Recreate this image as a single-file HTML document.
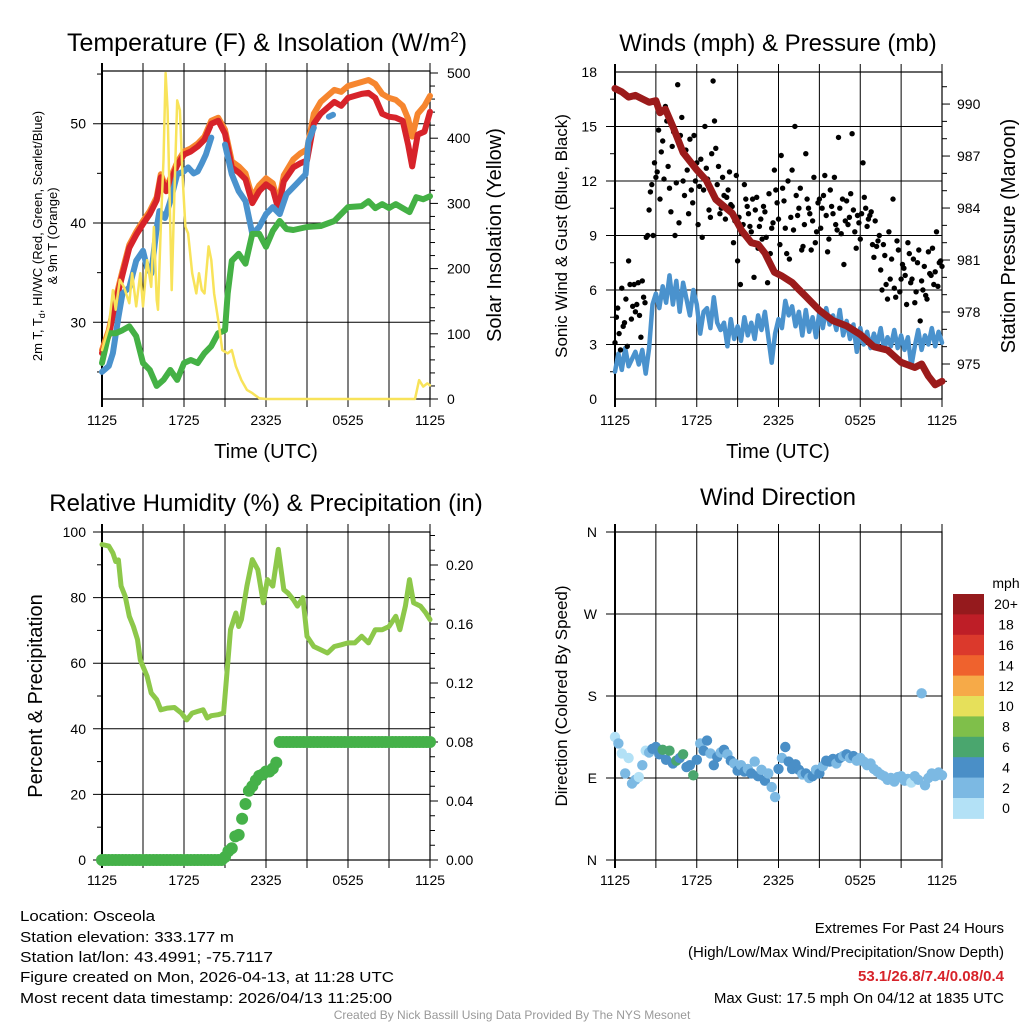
<!DOCTYPE html>
<html><head><meta charset="utf-8"><title>Osceola Meteogram</title>
<style>
html,body{margin:0;padding:0;background:#fff;}
svg{display:block;font-family:"Liberation Sans",Arial,sans-serif;}
</style></head>
<body>
<svg id="fig" width="1024" height="1024" viewBox="0 0 1024 1024" xmlns="http://www.w3.org/2000/svg">
<rect x="0" y="0" width="1024" height="1024" fill="#fff"/>
<!-- titles -->
<text x="267" y="51" font-size="25" text-anchor="middle">Temperature (F) &amp; Insolation (W/m<tspan dy="-9" font-size="15">2</tspan><tspan dy="9">)</tspan></text>
<text x="778" y="51" font-size="24" text-anchor="middle">Winds (mph) &amp; Pressure (mb)</text>
<text x="266" y="511" font-size="24" text-anchor="middle">Relative Humidity (%) &amp; Precipitation (in)</text>
<text x="778" y="505" font-size="24" text-anchor="middle">Wind Direction</text>
<!-- axis titles -->
<text x="266" y="458" font-size="20" text-anchor="middle">Time (UTC)</text>
<text x="778" y="458" font-size="20" text-anchor="middle">Time (UTC)</text>
<text transform="translate(42,236) rotate(-90)" font-size="13" text-anchor="middle">2m T, T<tspan dy="3" font-size="9">d</tspan><tspan dy="-3">, HI/WC (Red, Green, Scarlet/Blue)</tspan></text>
<text transform="translate(57,236) rotate(-90)" font-size="13" text-anchor="middle">&amp; 9m T (Orange)</text>
<text transform="translate(501,235) rotate(-90)" font-size="20" text-anchor="middle">Solar Insolation (Yellow)</text>
<text transform="translate(567,236) rotate(-90)" font-size="17" text-anchor="middle">Sonic Wind &amp; Gust (Blue, Black)</text>
<text transform="translate(1015,236) rotate(-90)" font-size="20" text-anchor="middle">Station Pressure (Maroon)</text>
<text transform="translate(42,696) rotate(-90)" font-size="20" text-anchor="middle">Percent &amp; Precipitation</text>
<text transform="translate(567,696) rotate(-90)" font-size="17" text-anchor="middle">Direction (Colored By Speed)</text>
<g id="layer"></g>
<!-- footer text -->
<g font-size="15">
<text x="20" y="921" textLength="135" lengthAdjust="spacingAndGlyphs">Location: Osceola</text>
<text x="20" y="942" textLength="214" lengthAdjust="spacingAndGlyphs">Station elevation: 333.177 m</text>
<text x="20" y="962" textLength="253" lengthAdjust="spacingAndGlyphs">Station lat/lon: 43.4991; -75.7117</text>
<text x="20" y="982" textLength="374" lengthAdjust="spacingAndGlyphs">Figure created on Mon, 2026-04-13, at 11:28 UTC</text>
<text x="20" y="1003" textLength="372" lengthAdjust="spacingAndGlyphs">Most recent data timestamp: 2026/04/13 11:25:00</text>
</g>
<g font-size="15" text-anchor="end">
<text x="1004" y="933">Extremes For Past 24 Hours</text>
<text x="1004" y="957">(High/Low/Max Wind/Precipitation/Snow Depth)</text>
<text x="1004" y="981" fill="#d7232a" font-weight="bold">53.1/26.8/7.4/0.08/0.4</text>
<text x="1004" y="1003">Max Gust: 17.5 mph On 04/12 at 1835 UTC</text>
</g>
<text x="512" y="1019" font-size="12" fill="#999" text-anchor="middle">Created By Nick Bassill Using Data Provided By The NYS Mesonet</text>
</svg>
<script>
// ---------- Panel 1: temperature & insolation ----------
var redHours = [0,0.5,1,1.5,2,2.5,3,3.5,4,4.3,4.7,5,5.5,6,6.5,7,7.5,8,8.5,9,9.5,10,10.5,11,11.5,12,12.5,12.9,13.3,14,14.5,15,15.5,16,16.5,17,17.5,18,18.5,19,19.5,20,20.5,21,21.5,22,22.4,22.7,23.1,23.6,24];
var tempRed = [26.9,28.7,32.0,34.8,37.5,38.8,39.9,40.9,42.3,44.6,43.2,44.2,45.8,46.9,47.2,47.7,48.4,50.0,50.3,49.0,45.6,45.1,44.4,42.0,43.2,43.9,43.4,41.4,44.2,45.6,46.0,46.3,50.0,51.0,51.6,52.2,51.8,52.6,52.8,53.0,53.1,52.6,51.0,50.7,50.6,50.3,47.9,45.7,48.9,49.2,51.2];
var temp9m = [27.2,29.2,32.4,35.2,37.8,39.1,40.2,41.2,42.6,44.9,43.5,44.5,46.1,47.2,47.5,48.0,48.7,50.3,50.6,49.4,46.2,45.7,45.0,42.6,43.8,44.5,44.0,42.0,44.8,46.4,47.0,47.4,51.0,52.2,52.8,53.4,53.2,53.8,54.0,54.2,54.4,54.0,53.0,52.6,52.4,51.8,50.5,48.7,51.0,51.8,52.8];
var wcHours = [0,0.5,0.8,1.2,1.5,2,2.5,3,3.3,3.6,4,4.2,4.6,5,5.5,6,6.3,6.7,7,7.3,7.6,8,8.3,8.6,9,9.5,10,10.5,11,11.5,12,12.5,13,13.5,14.2,14.9,15.1,15.5,15.8,16.2,16.6,16.9];
var windChill = [25.0,25.6,26.9,30.5,32.9,33.5,36.2,37.2,35.5,34.9,39.5,41.2,40.5,42.2,44.9,45.2,45.6,45.0,45.2,46.0,46.9,48.6,null,null,47.9,44.9,43.2,42.2,38.9,39.6,40.9,41.6,40.9,42.9,43.9,44.9,48.2,49.6,null,null,50.7,50.9];
var dewHours = [0,0.5,1,1.5,2,2.5,3,3.5,4,4.5,5,5.5,6,6.5,7,7.5,8,8.5,9,9.2,9.5,10,10.5,11,11.5,12,12.5,13,13.5,14,15,16,17,18,19,19.5,20,20.5,21,21.5,22,22.5,23,23.5,24];
var dewPoint = [25.9,28.9,28.9,29.2,29.6,28.6,25.9,25.2,23.6,24.2,25.2,24.2,25.9,26.2,25.9,26.9,27.6,28.9,29.2,32.9,36.2,36.9,35.9,38.9,38.9,37.6,39.2,40.2,39.4,39.3,39.6,39.7,40.2,41.6,41.7,42.2,41.5,41.9,41.5,41.9,41.5,41.1,42.6,42.4,42.7];
var solarHours = [0,0.5,0.8,1,1.3,1.6,2,2.2,2.5,2.8,3,3.3,3.6,3.8,4,4.1,4.3,4.5,4.65,4.8,5,5.1,5.3,5.5,5.7,5.9,6.1,6.3,6.6,6.9,7.1,7.3,7.5,7.8,8,8.2,8.5,8.8,9.2,9.5,9.8,10.2,10.6,11,11.5,12,22.9,23.2,23.5,23.8,24];
var solar = [75,111,167,137,183,172,147,193,142,193,142,213,172,264,152,137,264,367,500,443,264,167,315,458,443,341,264,254,193,162,193,167,162,234,213,162,121,75,70,75,50,29,14,9,1,0,0,29,19,24,21];
var tempTicks = [30,40,50];
var solarTicks = [0,100,200,300,400,500];
var timeTickHours = [0,6,12,18,24];
var timeTickLabels = ["1125","1725","2325","0525","1125"];
// ---------- Panel 2: winds & pressure ----------
var presHours = [0,0.5,1,1.5,2,2.5,3,3.3,3.7,4.3,5,6,6.7,7.4,8,8.6,9.3,10,10.5,11,11.7,12.2,13,13.5,14,15,16,17,18,19,20,21,22,22.5,23,23.5,24];
var pressure = [990.9,990.7,990.4,990.5,990.3,990.1,990.2,989.5,989.7,988.6,987.2,986.2,985.6,984.5,984.1,983.7,982.7,982.0,981.9,981.4,980.3,980.1,979.7,979.3,978.9,978.1,977.5,977.2,976.7,976.0,975.8,975.1,974.8,975.0,974.3,973.8,974.0];
// sonic wind, one value every 0.25 h
var windSpeed = [1.5,2.5,1.6,2.8,1.8,2.2,2.6,1.9,2.7,1.4,2.8,5.2,5.8,5.0,6.2,5.3,6.8,5.2,6.5,4.8,6.4,5.5,4.6,6.0,5.2,3.6,4.8,5.0,3.9,5.6,4.2,3.8,4.2,2.9,4.4,3.3,4.0,3.2,4.5,3.5,4.2,3.3,4.6,3.8,4.8,3.4,2.0,3.6,4.4,3.9,5.4,4.6,5.1,4.0,4.8,3.5,4.9,3.7,4.5,3.4,4.8,3.9,5.0,4.1,4.6,3.8,4.9,3.5,4.3,3.3,4.1,2.6,3.9,3.0,3.7,2.8,3.6,3.0,3.9,2.7,3.4,2.9,3.8,2.8,3.5,2.7,3.4,1.8,2.9,3.8,2.7,3.5,3.0,3.9,2.9,3.7,3.1];
// gusts at hours 0, 0.2, 0.4 ...
var gusts = [3.1,5.0,2.7,4.0,5.5,7.6,4.4,6.3,5.2,4.6,6.5,5.3,
 9.0,11.4,9.0,12.2,14.8,13.6,12.1,15.3,11.6,13.9,9.0,17.3,14.5,
 12.0,13.7,10.2,11.5,14.5,13.0,11.7,8.9,15.0,12.1,10.0,17.5,
 13.8,12.8,10.5,11.2,11.1,12.5,10.6,9.8,7.6,6.3,9.6,11.0,
 10.2,9.2,6.7,11.1,9.5,8.8,10.3,6.4,8.0,9.7,11.5,9.9,
 13.4,10.9,8.0,7.7,12.6,15.0,10.1,11.6,8.4,13.5,10.5,8.2,
 12.2,9.2,11.0,10.5,12.3,8.1,11.5,10.2,9.6,14.4,9.1,7.4,
 10.9,10.0,14.6,9.2,10.1,8.8,13.0,10.5,9.9,10.3,7.8,8.4,
 9.0,6.0,7.9,5.5,6.6,11.0,5.6,8.2,6.6,7.2,5.2,8.0,
 6.6,5.3,7.5,4.3,6.0,5.7,8.1,6.8,6.3,9.2,7.5,7.3];
// gusts at hours 0.1, 0.3, 0.5 ...
var gustsMid = [4.5,3.6,6.1,4.2,2.9,6.3,5.1,4.8,6.4,3.4,5.6,
 8.9,10.4,11.8,13.0,12.5,11.0,14.2,16.1,12.8,10.3,14.7,11.9,9.7,15.5,
 11.2,12.6,14.3,10.8,12.0,9.6,13.2,11.5,12.7,10.4,13.5,15.3,
 11.8,10.2,12.2,9.9,11.5,10.7,8.6,12.3,10.0,9.1,11.8,10.6,
 9.5,11.0,10.4,8.3,9.9,10.6,8.9,11.3,9.4,12.6,10.8,8.5,
 11.6,9.4,12.0,10.0,9.3,11.2,10.5,8.2,9.6,11.0,10.2,9.8,
 8.6,10.8,9.4,11.2,10.1,8.8,10.6,12.2,9.3,10.5,11.0,9.8,
 9.6,11.3,10.4,8.3,9.7,10.2,11.1,9.5,10.1,8.5,9.8,8.7,
 7.1,8.5,6.3,9.2,7.7,6.1,8.7,5.9,7.4,6.8,8.6,6.4,
 7.7,5.9,8.2,6.5,7.3,5.5,6.9,8.3,7.0,6.2,7.6];
var windTicks = [0,3,6,9,12,15,18];
var presTicks = [975,978,981,984,987,990];
// ---------- Panel 3: RH & precip ----------
var rhHours = [0,0.5,0.8,1,1.2,1.4,1.7,2,2.3,2.6,2.8,3,3.3,3.6,4,4.3,4.8,5.3,5.8,6.2,6.6,7,7.4,7.7,8,8.5,8.9,9.1,9.4,9.8,10,10.2,10.6,11,11.4,11.8,12.1,12.5,12.9,13.3,13.6,14,14.3,14.7,15,15.5,16,16.5,17,17.5,18,18.5,19,19.5,20,20.5,21,21.5,21.8,22.2,22.5,22.8,23.3,23.7,24];
var relHum = [96.2,95.7,93.6,91,91.5,83.5,80.4,74.3,71.2,67.2,61,59,56,50.9,48.9,45.8,46.3,46.5,44.8,42.7,44.8,45.3,45.8,43.3,44,44.3,44.8,55,70.2,75.3,71.2,73.3,83.5,91.6,88.5,78.4,85.5,83.5,94.7,82.4,81.4,79.4,77.4,80,68.2,65.1,64.1,63.1,65.1,65.6,66.2,66.2,68.2,66.2,70.2,70.2,71.2,74.3,70.2,77.4,85.5,78.4,77.4,75.3,73.3];
// precipitation, one value every 0.25 h
var precip = [0,0,0,0,0,0,0,0,0,0,0,0,0,0,0,0,0,0,0,0,0,0,0,0,0,0,0,0,0,0,0,0,0,0,0,0,
 0.002,0.006,0.008,0.016,0.017,0.028,0.038,0.047,0.050,0.054,0.057,0.058,0.060,0.060,0.062,0.066,0.080,
 0.08,0.08,0.08,0.08,0.08,0.08,0.08,0.08,0.08,0.08,0.08,0.08,0.08,0.08,0.08,0.08,0.08,0.08,0.08,0.08,0.08,0.08,
 0.08,0.08,0.08,0.08,0.08,0.08,0.08,0.08,0.08,0.08,0.08,0.08,0.08,0.08,0.08,0.08,0.08,0.08,0.08,0.08,0.08,0.08];
var rhTicks = [0,20,40,60,80,100];
var precipTicks = [0,0.04,0.08,0.12,0.16,0.20];
// ---------- Panel 4: wind direction, one value every 0.25 h ----------
var windDir = [135,128,117,95,112,84,88,91,104,120,118,122,124,116,121,110,120,106,109,112,116,102,104,93,110,128,120,131,117,104,113,118,121,116,109,106,98,104,97,100,95,108,92,99,87,95,80,69,100,112,124,108,100,105,99,94,95,90,92,99,95,103,109,108,111,106,112,114,116,112,114,109,112,108,104,106,100,97,94,92,88,90,86,91,92,87,89,85,92,88,183,82,90,95,92,96,93];
var dirTicks = [0,90,180,270,360];
var dirLabels = ["N","E","S","W","N"];
var speedBins = ["0","2","4","6","8","10","12","14","16","18","20+"];
var speedColors = ["#b3e1f6","#7cb9e3","#4a8fc7","#4aa66e","#7fbf4a","#e6e05a","#f6aa48","#ef622d","#db392c","#be1e27","#951a1d"];

// ---------- axis functions ----------
var P1 = {x0:102, x1:430, y0:71, y1:399};
var P2 = {x0:615, x1:942, y0:72, y1:399};
var P3 = {x0:102, x1:430, y0:532, y1:860};
var P4 = {x0:615, x1:942, y0:532, y1:860};
function xL(h){ return P1.x0 + h*(P1.x1-P1.x0)/24; }
function xR(h){ return P2.x0 + h*(P2.x1-P2.x0)/24; }
function yTemp(t){ return 322.3 - (t-30)*9.93; }
function ySolar(s){ return 399 - s*0.652; }
function yWind(w){ return 399 - w*18.17; }
function yPres(p){ return 364 - (p-975)*17.33; }
function yRH(r){ return 860 - r*3.28; }
function yPrecip(v){ return 860 - v*1475; }
function yDir(d){ return 860 - d*328/360; }

var NS = "http://www.w3.org/2000/svg";
var layer = document.getElementById("layer");
function mk(tag, attrs, parent){
  var e = document.createElementNS(NS, tag);
  for (var k in attrs) e.setAttribute(k, attrs[k]);
  (parent||layer).appendChild(e);
  return e;
}
function pathFrom(hours, vals, fx, fy){
  var d = "", pen = false;
  for (var i=0;i<vals.length;i++){
    if (vals[i]===null){ pen=false; continue; }
    d += (pen?"L":"M") + fx(hours[i]).toFixed(1) + "," + fy(vals[i]).toFixed(1);
    pen = true;
  }
  return d;
}
function seq(n, step, off){ var a=[]; for (var i=0;i<n;i++) a.push((off||0)+i*step); return a; }

// ---------- frames & grids ----------
function grid(P, fx, name){
  var g = mk("g", {});
  
  
  for (var h=0; h<=24; h+=3){
    var x = fx(h);
    var l = mk("line", {x1:x, x2:x, y1:P.y0-8, y2:P.y1+8, stroke:"#000", "stroke-width":(h===0?2:1)}, g);
    
    
  }
  var f = mk("rect", {x:P.x0, y:P.y0, width:P.x1-P.x0, height:P.y1-P.y0, fill:"none", stroke:"#000", "stroke-width":1.2}, g);
  
  
  return g;
}
function hline(P, y, len, name){
  var l = mk("line", {x1:P.x0-len, x2:P.x1, y1:y, y2:y, stroke:"#000", "stroke-width":1});
  
  
}
function ltick(x, y, len, name){
  var l = mk("line", {x1:x-len, x2:x, y1:y, y2:y, stroke:"#000", "stroke-width":1});
  
  
}
function rtick(x, y, len, name){
  var l = mk("line", {x1:x, x2:x+len, y1:y, y2:y, stroke:"#000", "stroke-width":1});
  
  
}
function label(x, y, txt, anchor, name, size){
  var t = mk("text", {x:x, y:y, "font-size":size||14, "text-anchor":anchor});
  t.textContent = txt;
  
  
  return t;
}
function timeLabels(fx, y, name){
  for (var i=0;i<timeTickHours.length;i++){
    label(fx(timeTickHours[i]), y, timeTickLabels[i], "middle", name);
  }
}

// Panel 1 axes
grid(P1, xL, "p1");
tempTicks.forEach(function(t){ hline(P1, yTemp(t), 9, "temp-gridline"); label(86, yTemp(t)+5, String(t), "end", "temp-tick-label"); });
[25,35,45,55].forEach(function(t){ ltick(P1.x0, yTemp(t), 5, "temp-minor-tick"); });
for (var s=0; s<=500; s+=20){ rtick(P1.x1, ySolar(s), s%100===0?8:5, "solar-tick"); }
solarTicks.forEach(function(s){ label(447, ySolar(s)+5, String(s), "start", "solar-tick-label"); });
timeLabels(xL, 425, "p1-time-label");

// Panel 2 axes
grid(P2, xR, "p2");
windTicks.forEach(function(w){ if (w>0 && w<18) hline(P2, yWind(w), 9, "wind-gridline"); label(597, yWind(w)+5, String(w), "end", "wind-tick-label"); });
for (var w=1.5; w<18; w+=3){ ltick(P2.x0, yWind(w), 5, "wind-minor-tick"); }
for (var p=974; p<=992; p+=1){ var yy=yPres(p); if (yy>P2.y0 && yy<P2.y1) rtick(P2.x1, yy, (p-975)%3===0?8:5, "pressure-tick"); }
presTicks.forEach(function(p){ label(957, yPres(p)+5, String(p), "start", "pressure-tick-label"); });
timeLabels(xR, 425, "p2-time-label");

// Panel 3 axes
grid(P3, xL, "p3");
rhTicks.forEach(function(r){ if (r>0 && r<100) hline(P3, yRH(r), 9, "rh-gridline"); label(86, yRH(r)+5, String(r), "end", "rh-tick-label"); });
for (var r=10; r<100; r+=20){ ltick(P3.x0, yRH(r), 5, "rh-minor-tick"); }
ltick(P3.x0, yRH(100), 9, "rh-major-tick"); ltick(P3.x0, yRH(0), 9, "rh-major-tick");
for (var q=0; q<=0.225; q+=0.01){ rtick(P3.x1, yPrecip(q), (Math.round(q*100)%4===0)?8:5, "precip-tick"); }
precipTicks.forEach(function(v){ label(446, yPrecip(v)+5, v.toFixed(2), "start", "precip-tick-label"); });
timeLabels(xL, 885, "p3-time-label");

// Panel 4 axes
grid(P4, xR, "p4");
dirTicks.forEach(function(d,i){ hline(P4, yDir(d), 9, "direction-gridline"); label(597, yDir(d)+5, dirLabels[i], "end", "direction-tick-label"); });
timeLabels(xR, 885, "p4-time-label");

// ---------- Panel 1 series ----------
function series(d, color, w, name){
  var e = mk("path", {d:d, fill:"none", stroke:color, "stroke-width":w, "stroke-linejoin":"round", "stroke-linecap":"round"});
  
  
  return e;
}
series(pathFrom(redHours, temp9m, xL, yTemp), "#f6862f", 6, "temp-9m-line");
series(pathFrom(redHours, tempRed, xL, yTemp), "#d7232a", 6, "temp-2m-line");
series(pathFrom(wcHours, windChill, xL, yTemp), "#4a92cd", 6, "wind-chill-line");
series(pathFrom(dewHours, dewPoint, xL, yTemp), "#44b145", 6, "dewpoint-line");
series(pathFrom(solarHours, solar, xL, ySolar), "#f8e35a", 2.5, "solar-insolation-line");

// ---------- Panel 2 series ----------
series(pathFrom(seq(windSpeed.length,0.25), windSpeed, xR, yWind), "#4a92cd", 4.5, "sonic-wind-line");
var gg = mk("g", {});


for (var i=0;i<gusts.length;i++){
  var c = mk("circle", {cx:xR(i*0.2).toFixed(1), cy:yWind(gusts[i]).toFixed(1), r:2.7, fill:"#000"}, gg);
  
  
}
for (var i=0;i<gustsMid.length;i++){
  var c = mk("circle", {cx:xR(0.1+i*0.2).toFixed(1), cy:yWind(gustsMid[i]).toFixed(1), r:2.7, fill:"#000"}, gg);
  
  
}
series(pathFrom(presHours, pressure, xR, yPres), "#9b1b1b", 7, "pressure-line");

// ---------- Panel 3 series ----------
series(pathFrom(rhHours, relHum, xL, yRH), "#8dc84a", 5, "relative-humidity-line");
var pg = mk("g", {});


for (var i=0;i<precip.length;i++){
  var c = mk("circle", {cx:xL(i*0.25).toFixed(1), cy:yPrecip(precip[i]).toFixed(1), r:6, fill:"#45b149"}, pg);
  
  
}

// ---------- Panel 4 series ----------
var dg = mk("g", {});


for (var i=0;i<windDir.length;i++){
  var sp = windSpeed[i];
  var bin = Math.min(10, Math.floor(sp/2));
  var c = mk("circle", {cx:xR(i*0.25).toFixed(1), cy:yDir(windDir[i]).toFixed(1), r:5.2, fill:speedColors[bin]}, dg);
  
  
}

// ---------- colorbar ----------
var cb = mk("g", {});


var cbTop = 594, cbH = 20.4;
for (var i=0;i<speedBins.length;i++){
  var k = speedBins.length-1-i;
  var rc = mk("rect", {x:953, y:(cbTop+i*cbH).toFixed(1), width:31, height:cbH+0.5, fill:speedColors[k]}, cb);
  
  
  label(1006, cbTop+i*cbH+cbH/2+5, speedBins[k], "middle", "colorbar-label");
}
label(1006, 588, "mph", "middle", "colorbar-title");
</script>
</body></html>
